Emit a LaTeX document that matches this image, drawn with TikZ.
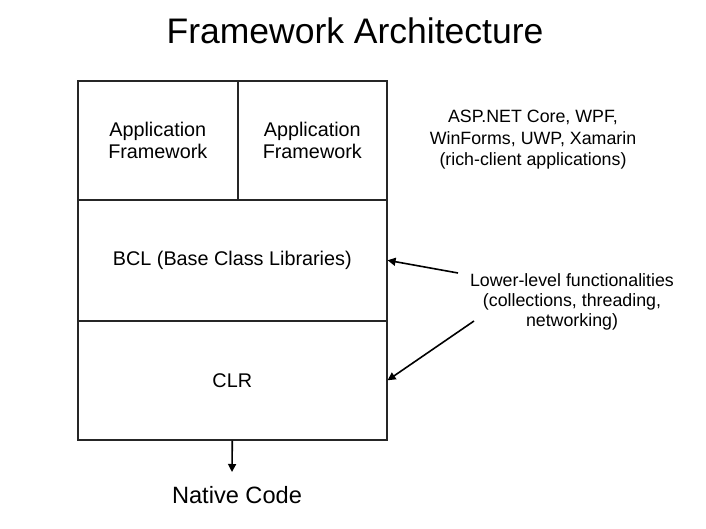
\documentclass[tikz,border=0pt]{standalone}
\usepackage{fontspec}
\setmainfont{Liberation Sans}
\usetikzlibrary{arrows.meta}
\begin{document}
\begin{tikzpicture}[x=1pt,y=-1pt,
  cell/.style={draw=black!85,line width=1.6pt,rectangle,inner sep=0pt,anchor=north west,align=center,
    font=\fontsize{19.8}{22}\selectfont},
  note/.style={align=center,font=\fontsize{17.8}{21.5}\selectfont,inner sep=0pt},
  conn/.style={line width=1.6pt,-{Triangle[length=8pt,width=8pt]}}]
\useasboundingbox (0,0) rectangle (706,529);
\node[font=\fontsize{35.5}{40}\selectfont,inner sep=0pt] (title) at (355,31) {Framework Architecture};
\node[cell,minimum width=160pt,minimum height=119pt] (app1) at (77,80) {Application\\Framework};
\node[cell,minimum width=149pt,minimum height=119pt] (app2) at (237,80) {Application\\Framework};
\node[cell,minimum width=309pt,minimum height=121pt] (bcl) at (77,199) {BCL (Base Class Libraries)};
\node[cell,minimum width=309pt,minimum height=119pt] (clr) at (77,320) {CLR};
\node[note] (asp) at (533,140) {ASP.NET Core, WPF,\\WinForms, UWP, Xamarin\\(rich-client applications)};
\node[note,font=\fontsize{17.8}{20}\selectfont] (low) at (572,302) {Lower-level functionalities\\(collections, threading,\\networking)};
\coordinate (s1) at (458,273);
\coordinate (s2) at (474,321);
\draw[conn] (s1) -- (bcl.east);
\draw[conn] (s2) -- (clr.east);
\node[font=\fontsize{23.6}{28}\selectfont,inner sep=0pt] (native) at (237,495) {Native Code};
\coordinate (nc) at (232,472);
\draw[conn] (clr.south) -- (nc);
\end{tikzpicture}
\end{document}
